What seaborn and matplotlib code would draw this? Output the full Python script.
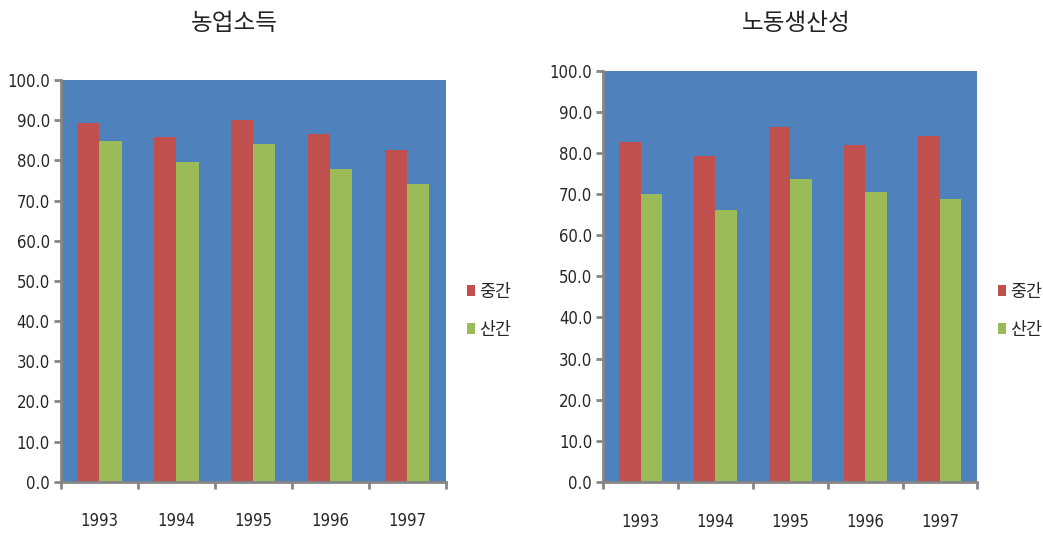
import matplotlib
matplotlib.use("Agg")
import matplotlib.pyplot as plt
from matplotlib import font_manager
from matplotlib.patches import Patch
import numpy as np
import pandas as pd
import seaborn as sns

years = ["1993", "1994", "1995", "1996", "1997"]
groups = ["중간", "산간"]
income_mid = [89.2, 85.7, 90.0, 86.6, 82.6]
income_mtn = [84.9, 79.7, 84.0, 77.9, 74.0]
labor_mid = [82.7, 79.3, 86.2, 81.9, 84.2]
labor_mtn = [70.1, 66.1, 73.7, 70.6, 68.9]
titles = ["농업소득", "노동생산성"]

BG = "#4F81BD"
RED = "#C0504D"
GREEN = "#9BBB59"
AXIS = "#868686"


def is_regular(f):
    w = f.weight
    if isinstance(w, str):
        w = {"normal": 400, "regular": 400, "book": 400}.get(w.lower(), 700)
    base = f.fname.lower()
    return w == 400 and f.style == "normal" and "bold" not in base \
        and "oblique" not in base and "italic" not in base


# pick a narrow regular face for the numbers if one is installed
cands = [f for f in font_manager.fontManager.ttflist
         if ("narrow" in f.fname.lower() or "condensed" in f.fname.lower()
             or "narrow" in f.name.lower() or "condensed" in f.name.lower())
         and is_regular(f)]
cands.sort(key=lambda f: (0 if "Liberation" in f.name else 1, f.fname))
if cands:
    num_font = font_manager.FontProperties(fname=cands[0].fname, size=12)
else:
    num_font = font_manager.FontProperties(family="DejaVu Sans", size=11)

sns.set_theme(style="white")
plt.rcParams["font.family"] = ["Noto Sans CJK KR", "DejaVu Sans"]

fig = plt.figure(figsize=(10.43, 5.33), dpi=100)
W, H = 1043, 533


def frame(x0, x1, ytop, ybot):
    return [x0 / W, 1 - ybot / H, (x1 - x0) / W, (ybot - ytop) / H]


panels = [
    dict(rect=frame(61, 445.7, 80, 481.7), mid=income_mid, mtn=income_mtn,
         title=titles[0], tx=234, legx=467),
    dict(rect=frame(603.3, 977.3, 70.7, 482), mid=labor_mid, mtn=labor_mtn,
         title=titles[1], tx=796, legx=998),
]

for p in panels:
    ax = fig.add_axes(p["rect"])
    df = pd.DataFrame({
        "year": years * 2,
        "group": [groups[0]] * len(years) + [groups[1]] * len(years),
        "value": p["mid"] + p["mtn"],
    })
    sns.barplot(data=df, x="year", y="value", hue="group", order=years,
                hue_order=groups, palette=[RED, GREEN], saturation=1,
                width=0.575, linewidth=0, ax=ax, legend=False)
    ax.set_facecolor(BG)
    ax.set_xlim(-0.5, len(years) - 0.5)
    ax.set_ylim(0, 100)
    ax.set_xlabel("")
    ax.set_ylabel("")
    for s in ["top", "right"]:
        ax.spines[s].set_visible(False)
    for s in ["left", "bottom"]:
        ax.spines[s].set_color(AXIS)
        ax.spines[s].set_linewidth(2)
    yt = np.arange(0, 101, 10)
    ax.set_yticks(yt)
    ax.set_yticklabels([f"{v:.1f}" for v in yt], fontproperties=num_font)
    ax.tick_params(axis="y", which="major", direction="out", length=5,
                   width=2, color=AXIS, pad=3, left=True)
    ax.set_xticks(range(len(years)))
    ax.set_xticklabels(years, fontproperties=num_font)
    ax.set_xticks(np.arange(-0.5, len(years), 1), minor=True)
    ax.tick_params(axis="x", which="major", length=0, pad=22)
    ax.tick_params(axis="x", which="minor", direction="out", length=5,
                   width=2, color=AXIS, bottom=True)
    ax.grid(False)

    fig.text(p["tx"] / W, 1 - 23 / H, p["title"], ha="center", va="center",
             fontsize=17, color="#222222",
             family=["Noto Sans CJK KR", "DejaVu Sans"])

    handles = [Patch(facecolor=RED, edgecolor="none"),
               Patch(facecolor=GREEN, edgecolor="none")]
    ax.legend(handles, groups, loc="center left",
              bbox_to_anchor=(p["legx"] / W, 1 - 311 / H),
              bbox_transform=fig.transFigure, frameon=False,
              handlelength=0.45, handleheight=0.6, handletextpad=0.25,
              labelspacing=1.15, borderpad=0, borderaxespad=0,
              prop={"family": ["Noto Sans CJK KR", "DejaVu Sans"], "size": 12.5})

fig.savefig("out.png", dpi=100, facecolor="white")
